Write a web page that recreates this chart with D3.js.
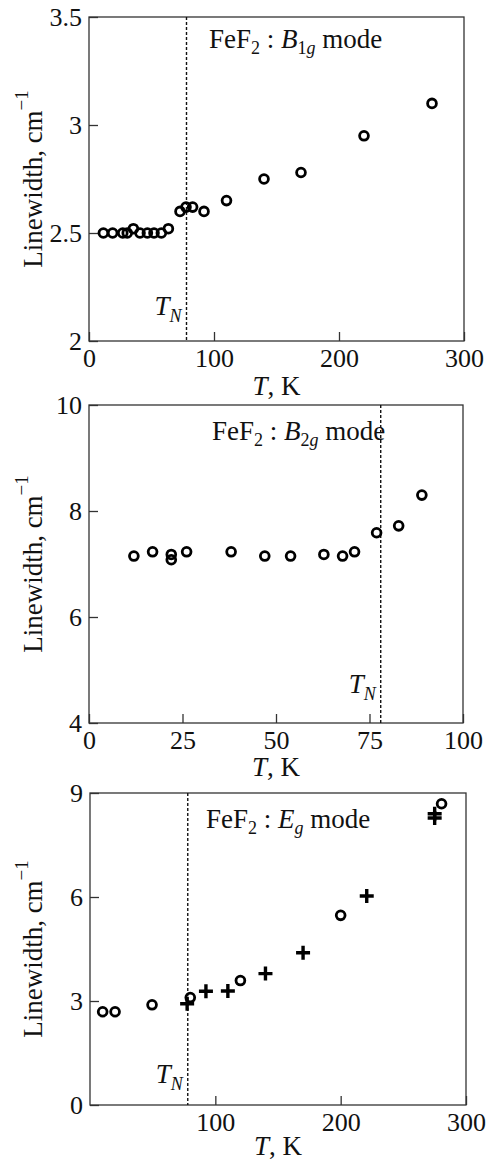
<!DOCTYPE html>
<html>
<head>
<meta charset="utf-8">
<script src="https://cdn.jsdelivr.net/npm/d3@7"></script>
<style>
body { margin: 0; background: #fff; }
svg text { font-family: "Liberation Serif", "Times New Roman", serif; fill: #111; }
</style>
</head>
<body>
<svg id="fig" width="491" height="1162"></svg>
<script>
/* B1g mode */
var b1gT = [11.5, 18.9, 27, 30.6, 35.5, 40.8, 46.7, 52, 57.9, 63.5, 72.8, 77.6, 82.9, 92, 110, 140, 169.6, 220, 274.4];
var b1gW = [2.5, 2.5, 2.5, 2.5, 2.52, 2.5, 2.5, 2.5, 2.5, 2.52, 2.6, 2.62, 2.62, 2.6, 2.65, 2.75, 2.78, 2.95, 3.10];
var b1gXTicks = [0, 100, 200, 300];
var b1gYTicks = [2, 2.5, 3, 3.5];
var b1gYLabels = ['2', '2.5', '3', '3.5'];

/* B2g mode */
var b2gT = [12, 17, 22, 22, 26.1, 38, 47, 53.9, 62.8, 67.8, 71, 76.9, 82.8, 89];
var b2gW = [7.15, 7.23, 7.18, 7.08, 7.23, 7.23, 7.15, 7.15, 7.18, 7.15, 7.23, 7.59, 7.72, 8.30];
var b2gXTicks = [0, 25, 50, 75, 100];
var b2gYTicks = [4, 6, 8, 10];

/* Eg mode: two data sets */
var egCircT = [10.1, 20, 49.5, 80, 120, 200, 280.5];
var egCircW = [2.69, 2.69, 2.89, 3.10, 3.59, 5.47, 8.69];
var egCrossT = [77.5, 92.5, 110, 140, 170, 220.8, 275, 275];
var egCrossW = [2.92, 3.28, 3.29, 3.79, 4.39, 6.03, 8.40, 8.28];
var egXTicks = [100, 200, 300];
var egYTicks = [0, 3, 6, 9];

var tN = 78;

var svg = d3.select('#fig');

/*Panel*/
function panel(o) {
  var x = d3.scaleLinear().domain(o.xd).range([o.left, o.right]),
      y = d3.scaleLinear().domain(o.yd).range([o.bottom, o.top]);
  var g = svg.append('g');

  g.append('g')
      .attr('transform', 'translate(' + o.left + ',0)')
      .call(d3.axisLeft(y).tickValues(o.yTicks).tickSize(-9).tickPadding(7)
        .tickFormat(function(d, i) { return o.yLabels ? o.yLabels[i] : d; }))
      .call(styleAxis);

  g.append('g')
      .attr('transform', 'translate(0,' + o.bottom + ')')
      .call(d3.axisBottom(x).tickValues(o.xTicks).tickSize(-9).tickPadding(8)
        .tickFormat(function(d) { return d; }))
      .call(styleAxis);

  g.append('rect')
      .attr('x', o.left).attr('y', o.top)
      .attr('width', o.right - o.left).attr('height', o.bottom - o.top)
      .attr('fill', 'none').attr('stroke', '#333').attr('stroke-width', 1.3);

  g.append('line')
      .attr('x1', x(tN)).attr('x2', x(tN))
      .attr('y1', o.top).attr('y2', o.bottom)
      .attr('stroke', '#111').attr('stroke-width', 1.4)
      .attr('stroke-dasharray', '3,2');

  // T_N label
  var tn = g.append('text')
      .attr('x', x(tN) - 5).attr('y', o.bottom - o.tnUp)
      .attr('text-anchor', 'end').style('font-size', '27px').style('font-style', 'italic');
  tn.append('tspan').text('T');
  tn.append('tspan').attr('dy', 7).style('font-size', '18px').text('N');

  // mode label
  var ann = g.append('text')
      .attr('x', o.annX).attr('y', o.top + o.annDown)
      .style('font-size', '27px');
  o.ann.forEach(function(p) {
    var s = ann.append('tspan').text(p.t);
    if (p.it) s.style('font-style', 'italic');
    if (p.sub) s.style('font-size', '18px');
    if (p.dy) s.attr('dy', p.dy);
  });

  // axis titles
  var xt = g.append('text')
      .attr('x', (o.left + o.right) / 2).attr('y', o.bottom + o.xtDown)
      .attr('text-anchor', 'middle').style('font-size', '27px');
  xt.append('tspan').style('font-style', 'italic').text('T');
  xt.append('tspan').text(', K');

  var yt = g.append('text')
      .attr('transform', 'translate(42,' + (o.top + o.bottom) / 2 + ') rotate(-90)')
      .attr('text-anchor', 'middle').style('font-size', '27px');
  yt.append('tspan').text('Linewidth, cm');
  yt.append('tspan').attr('dy', -14).style('font-size', '19px').text('\u22121');

  return { g: g, x: x, y: y };
}

function styleAxis(sel) {
  sel.select('.domain').remove();
  sel.selectAll('.tick line').attr('stroke', '#333').attr('stroke-width', 1.3);
  sel.selectAll('.tick text').style('font-size', '26px').attr('fill', '#111');
}

function circles(p, ts, ws) {
  p.g.selectAll(null)
    .data(ts)
    .enter().append('circle')
      .attr('cx', function(d) { return p.x(d); })
      .attr('cy', function(d, i) { return p.y(ws[i]); })
      .attr('r', 4.4)
      .attr('fill', 'none').attr('stroke', '#000').attr('stroke-width', 2.8);
}

function crosses(p, ts, ws) {
  p.g.selectAll(null)
    .data(ts)
    .enter().append('path')
      .attr('transform', function(d, i) { return 'translate(' + p.x(d) + ',' + p.y(ws[i]) + ')'; })
      .attr('d', 'M-7,0H7M0,-7V7')
      .attr('stroke', '#000').attr('stroke-width', 3.4);
}

var p1 = panel({
  left: 89, right: 464, top: 17, bottom: 341,
  xd: [0, 300], yd: [2, 3.5],
  xTicks: b1gXTicks, yTicks: b1gYTicks, yLabels: b1gYLabels,
  tnUp: 26, annX: 209, annDown: 31, xtDown: 54,
  ann: [{t: 'FeF'}, {t: '2', sub: 1, dy: 6}, {t: ' : ', dy: -6}, {t: 'B', it: 1},
        {t: '1', sub: 1, dy: 6}, {t: 'g', sub: 1, it: 1}, {t: ' mode', dy: -6}]
});
circles(p1, b1gT, b1gW);

var p2 = panel({
  left: 89, right: 463, top: 405, bottom: 723,
  xd: [0, 100], yd: [4, 10],
  xTicks: b2gXTicks, yTicks: b2gYTicks,
  tnUp: 30, annX: 212, annDown: 35, xtDown: 53,
  ann: [{t: 'FeF'}, {t: '2', sub: 1, dy: 6}, {t: ' : ', dy: -6}, {t: 'B', it: 1},
        {t: '2', sub: 1, dy: 6}, {t: 'g', sub: 1, it: 1}, {t: ' mode', dy: -6}]
});
circles(p2, b2gT, b2gW);

var p3 = panel({
  left: 90, right: 466, top: 793, bottom: 1105,
  xd: [0, 300], yd: [0, 9],
  xTicks: egXTicks, yTicks: egYTicks,
  tnUp: 22, annX: 206, annDown: 35, xtDown: 50,
  ann: [{t: 'FeF'}, {t: '2', sub: 1, dy: 6}, {t: ' : ', dy: -6}, {t: 'E', it: 1},
        {t: 'g', sub: 1, it: 1, dy: 6}, {t: ' mode', dy: -6}]
});
crosses(p3, egCrossT, egCrossW);
circles(p3, egCircT, egCircW);
</script>
</body>
</html>
